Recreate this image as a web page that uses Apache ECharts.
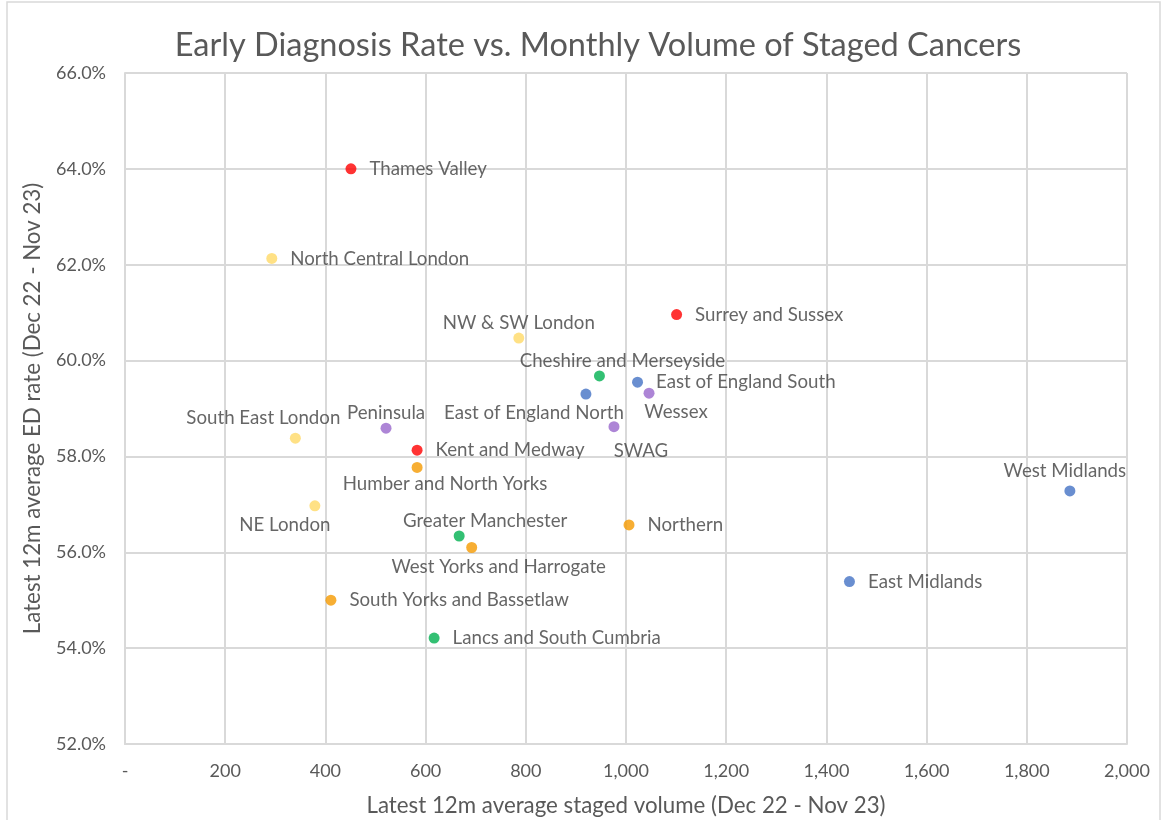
<!DOCTYPE html>
<html><head><meta charset="utf-8">
<script src="https://cdn.jsdelivr.net/npm/echarts@6/dist/echarts.min.js"></script>
<style>html,body{margin:0;padding:0;background:#fff}#c{width:1167px;height:820px}</style>
</head><body><div id="c"></div>
<script>
const names = ["Thames Valley","North Central London","Surrey and Sussex","NW & SW London","Cheshire and Merseyside","East of England South","East of England North","Wessex","Peninsula","SWAG","South East London","Kent and Medway","Humber and North Yorks","West Midlands","NE London","Northern","Greater Manchester","West Yorks and Harrogate","East Midlands","South Yorks and Bassetlaw","Lancs and South Cumbria"];
const volume = [451,293,1101,786,947,1023,920,1046,521,976,340,583,583,1886,379,1006,667,692,1446,411,617];
const edRate = [64.00,62.13,60.96,60.47,59.68,59.55,59.30,59.32,58.59,58.62,58.38,58.13,57.77,57.28,56.97,56.57,56.34,56.10,55.39,55.00,54.21];
const groups = ["red","yellow","red","yellow","green","blue","blue","purple","purple","purple","yellow","red","orange","blue","yellow","orange","green","orange","blue","orange","green"];
const xTicks = [0,200,400,600,800,1000,1200,1400,1600,1800,2000];
const yTicks = [52,54,56,58,60,62,64,66];

const palette = {red:"#FF0000",yellow:"#FFD966",green:"#00B050",blue:"#4472C4",purple:"#9966CC",orange:"#F59A00"};
// label placement: [position, dx, dy]
const labelPlace = [["right",0,0],["right",0,0],["right",0,0],["top",0,0],["top",23,0],["right",0,0],["bottom",-52,4],["bottom",27,4],["top",0,0],["bottom",27,9],["top",-32,-5],["right",0,0],["bottom",28,2],["top",-5,-5],["bottom",-30,4],["right",0,0],["top",26,0],["bottom",27,4],["right",0,0],["right",0,0],["right",0,0]];

const font = "Lato";
const data = names.map((n,i)=>({
  name:n, value:[volume[i], edRate[i]],
  itemStyle:{color:palette[groups[i]]},
  label:{show:true, formatter:n, position:labelPlace[i][0], offset:[labelPlace[i][1],labelPlace[i][2]],
    distance: labelPlace[i][0]==="right" ? 13 : 0}
}));

const chart = echarts.init(document.getElementById('c'));
chart.setOption({
  animation:false,
  backgroundColor:"#fff",
  title:{text:"Early Diagnosis Rate vs. Monthly Volume of Staged Cancers", left:593, top:24, textAlign:"center",
    textStyle:{fontFamily:font, fontSize:32.5, fontWeight:"normal", color:"#595959"}},
  graphic:[{type:"rect", shape:{x:7,y:2,width:1153,height:830}, style:{fill:"none", stroke:"#D9D9D9", lineWidth:1.5}, silent:true}],
  grid:{left:125, right:40, top:73, bottom:76, containLabel:false, outerBoundsMode:"none"},
  xAxis:{type:"value", min:0, max:2000, interval:200,
    name:"Latest 12m average staged volume (Dec 22 - Nov 23)", nameLocation:"middle", nameGap:51,
    nameTextStyle:{fontFamily:font, fontSize:22.3, color:"#595959"},
    axisLine:{show:true, lineStyle:{color:"#D9D9D9", width:2}}, axisTick:{show:false},
    axisLabel:{fontFamily:font, fontSize:18, color:"#595959", margin:18,
      formatter:v=> v===0 ? "-" : v.toLocaleString("en-US")},
    splitLine:{show:true, lineStyle:{color:"#D9D9D9", width:2}}},
  yAxis:{type:"value", min:52, max:66, interval:2,
    name:"Latest 12m average ED rate (Dec 22 - Nov 23)", nameLocation:"middle", nameGap:81,
    nameTextStyle:{fontFamily:font, fontSize:22.3, color:"#595959"},
    axisLine:{show:true, lineStyle:{color:"#D9D9D9", width:2}}, axisTick:{show:false},
    axisLabel:{fontFamily:font, fontSize:18, color:"#595959", margin:19, formatter:v=>v.toFixed(1)+"%"},
    splitLine:{show:true, lineStyle:{color:"#D9D9D9", width:2}}},
  series:[{type:"scatter", symbolSize:11, data:data,
    label:{fontFamily:font, fontSize:18.7, color:"#404040"}}]
});
</script></body></html>
